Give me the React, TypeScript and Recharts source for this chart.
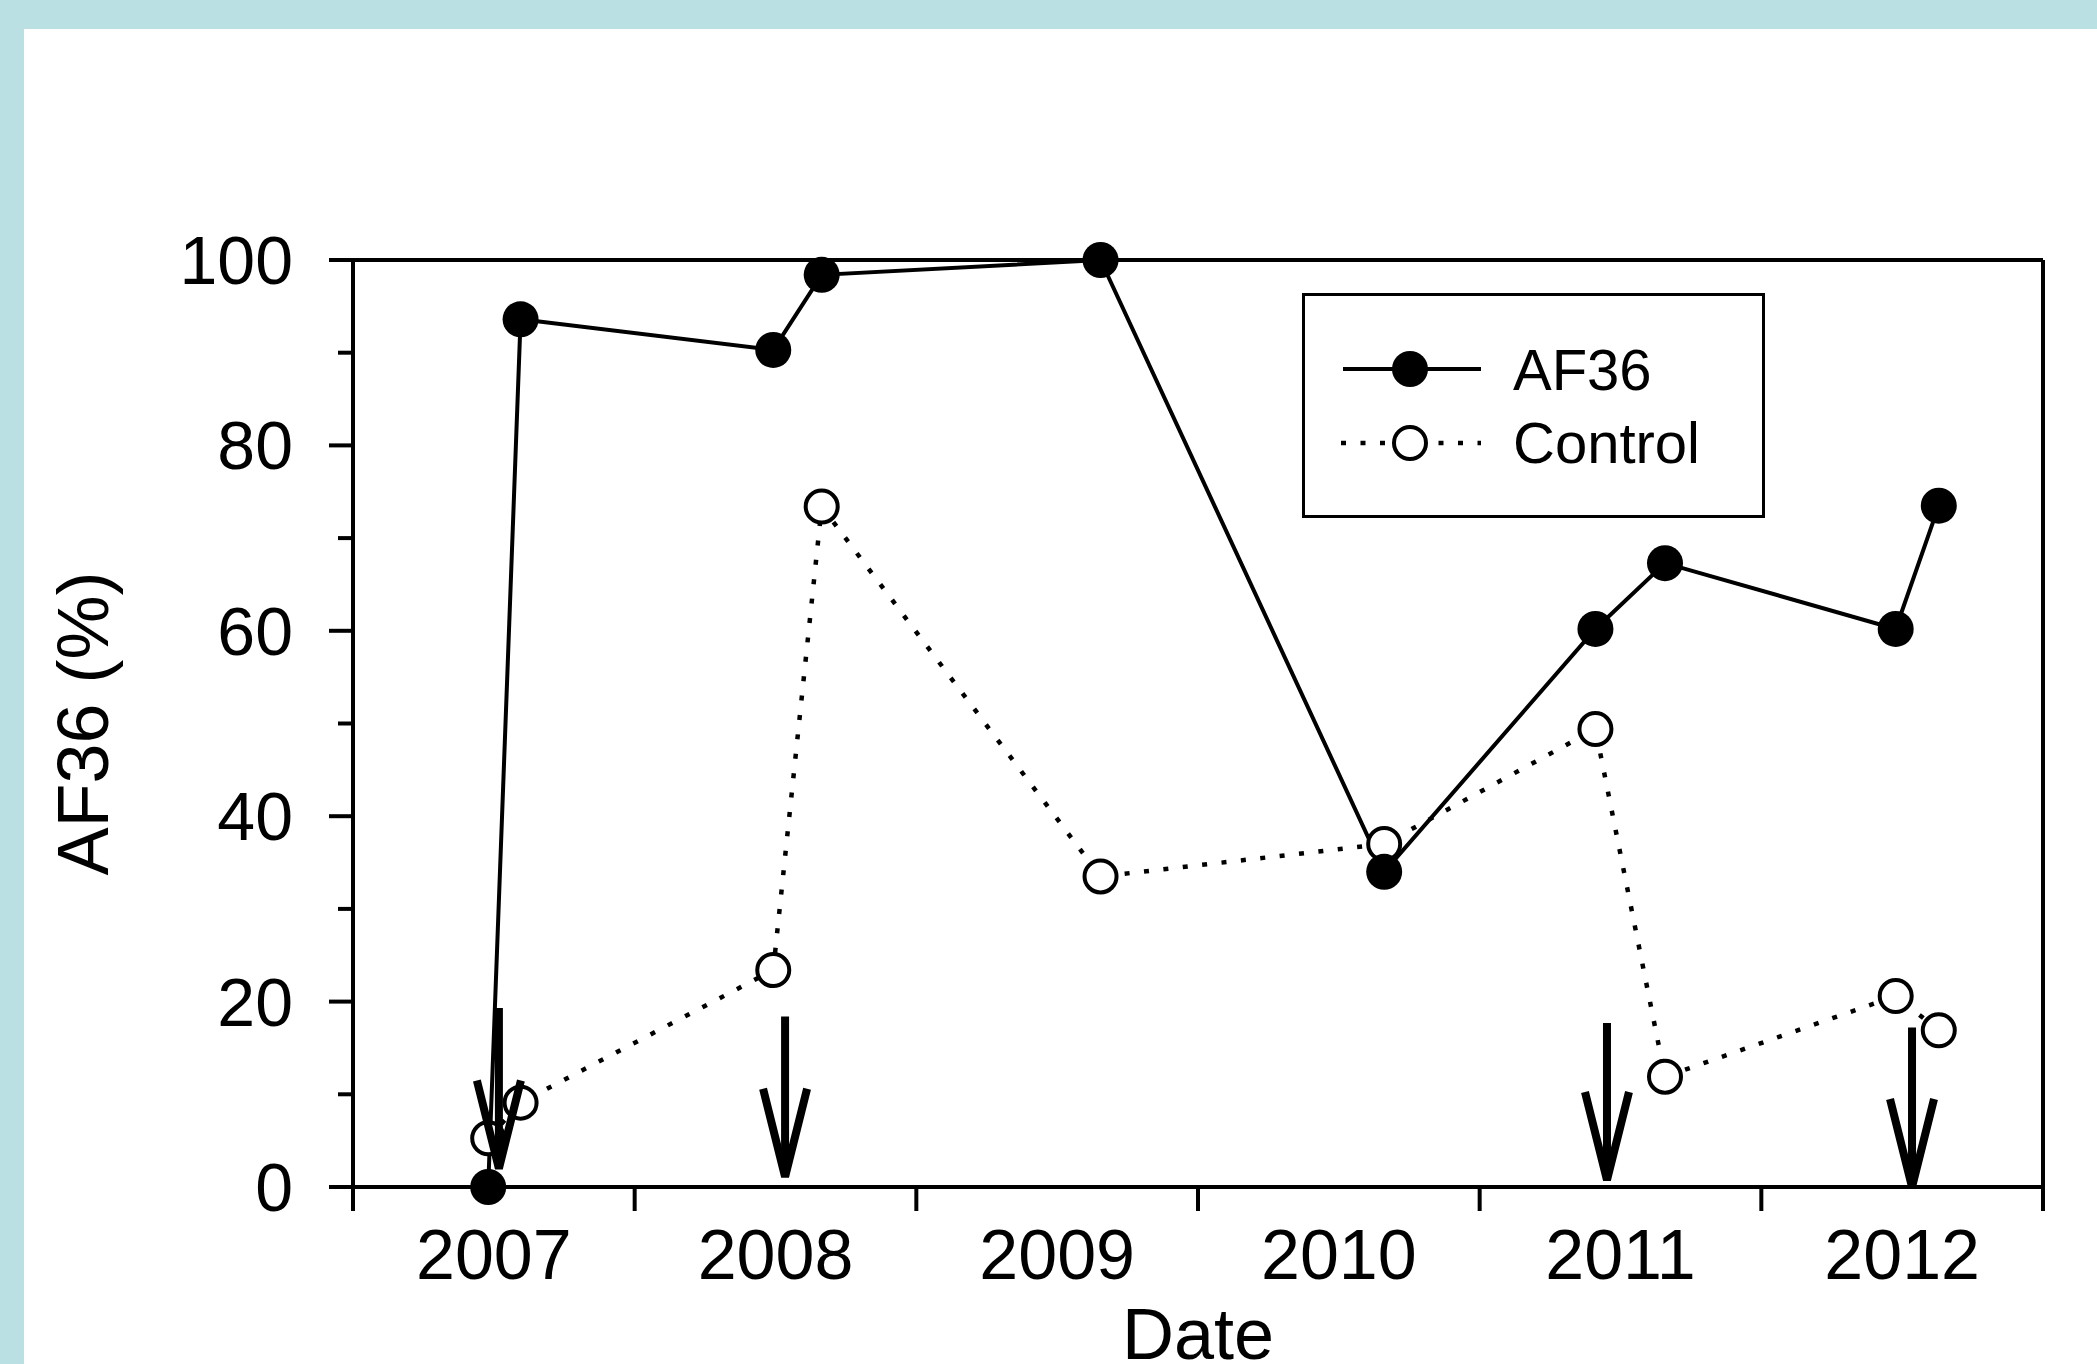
import React from 'react';
import { LineChart, Line, XAxis, YAxis, ReferenceLine, ReferenceDot, Legend } from 'recharts';

const FONT = '"Liberation Sans", Arial, sans-serif';

// sampling dates as fractional years
const dates = [2007.48, 2007.595, 2008.492, 2008.664, 2009.654, 2010.661, 2011.411, 2011.658, 2012.477, 2012.63];
const af36 = [0, 93.6, 90.3, 98.4, 100, 34.0, 60.2, 67.3, 60.2, 73.5];
const control = [5.25, 9.1, 23.4, 73.4, 33.5, 37.0, 49.4, 11.9, 20.6, 16.9];

// treatment arrows
const arrowDates = [2007.518, 2008.534, 2011.452, 2012.535];
const arrowTop = [19.3, 18.4, 17.7, 17.2];
const arrowTip = [2.0, 1.1, 0.75, 0];

const yearTicks = [2007, 2008, 2009, 2010, 2011, 2012, 2013];
const yearLabels = ['2007', '2008', '2009', '2010', '2011', '2012'];
const yTicks = [0, 10, 20, 30, 40, 50, 60, 70, 80, 90, 100];
const seriesNames = ['AF36', 'Control'];

const data = dates.map((d, i) => ({ date: d, af36: af36[i], control: control[i] }));
const xTicks = [...yearTicks, ...yearLabels.map((_, i) => yearTicks[i] + 0.5)].sort((a, b) => a - b);

const LeftTick = (props: any) => {
  const { x, y, payload } = props;
  const major = payload.value % 20 === 0;
  return (
    <g>
      <line x1={x} y1={y} x2={x - (major ? 24 : 15)} y2={y} stroke="#000" strokeWidth={4} />
      {major && (
        <text x={x - 60} y={y + 24} textAnchor="end" fontSize={68} fontFamily={FONT} fill="#000">
          {payload.value}
        </text>
      )}
    </g>
  );
};

const RightTick = (props: any) => {
  const { x, y, payload } = props;
  const major = payload.value % 20 === 0;
  return <line x1={x} y1={y} x2={x + (major ? 24 : 15)} y2={y} stroke="#000" strokeWidth={4} />;
};

const BottomTick = (props: any) => {
  const { x, y, payload } = props;
  const v = payload.value;
  if (Number.isInteger(v)) {
    return <line x1={x} y1={y} x2={x} y2={y + 24} stroke="#000" strokeWidth={4} />;
  }
  const idx = yearTicks.indexOf(Math.floor(v));
  return (
    <text x={x} y={y + 92} textAnchor="middle" fontSize={70} fontFamily={FONT} fill="#000">
      {yearLabels[idx]}
    </text>
  );
};

const YTitle = (props: any) => {
  const { viewBox } = props;
  const cy = viewBox.y + viewBox.height / 2;
  const x = 108;
  return (
    <text x={x} y={cy} transform={`rotate(-90, ${x}, ${cy})`} textAnchor="middle" fontSize={72} fontFamily={FONT} fill="#000">
      AF36 (%)
    </text>
  );
};

const ArrowHead = (props: any) => {
  const { cx, cy } = props;
  return (
    <path
      d={`M ${cx - 22} ${cy - 88} L ${cx} ${cy} L ${cx + 22} ${cy - 88}`}
      fill="none"
      stroke="#000"
      strokeWidth={8}
    />
  );
};

const LegendBox = () => (
  <svg width={463} height={225}>
    <rect x={1.5} y={1.5} width={460} height={222} fill="#fff" stroke="#000" strokeWidth={3} />
    <line x1={41} y1={76} x2={179} y2={76} stroke="#000" strokeWidth={4} />
    <circle cx={108} cy={76} r={18} fill="#000" />
    <text x={211} y={97} fontSize={58} fontFamily={FONT} fill="#000">{seriesNames[0]}</text>
    <line x1={39} y1={150} x2={179} y2={150} stroke="#000" strokeWidth={4.5} strokeDasharray="5 14.5" />
    <circle cx={108} cy={150} r={16} fill="#fff" stroke="#000" strokeWidth={4} />
    <text x={211} y={170} fontSize={58} fontFamily={FONT} fill="#000">{seriesNames[1]}</text>
  </svg>
);

export default function App() {
  return (
    <div style={{ position: 'absolute', left: 0, top: 0, width: 2097, height: 1364, background: '#fff', overflow: 'hidden' }}>
      <div style={{ position: 'absolute', left: 0, top: 0, width: 2097, height: 29, background: '#bae0e3' }} />
      <div style={{ position: 'absolute', left: 0, top: 0, width: 24, height: 1364, background: '#bae0e3' }} />
      <div style={{ position: 'absolute', left: 0, top: 0 }}>
        <LineChart width={2097} height={1364} data={data} margin={{ top: 260, right: 0, bottom: 0, left: 0 }}>
          <XAxis
            dataKey="date"
            type="number"
            domain={[2007, 2013]}
            ticks={xTicks}
            interval={0}
            tickSize={0}
            tickMargin={0}
            tickLine={false}
            tick={<BottomTick />}
            height={177}
            axisLine={{ stroke: '#000', strokeWidth: 4 }}
            label={{ value: 'Date', position: 'insideBottom', offset: 5, fontSize: 72, fontFamily: FONT, fill: '#000' }}
          />
          <YAxis
            type="number"
            domain={[0, 100]}
            ticks={yTicks}
            interval={0}
            tickSize={0}
            tickMargin={0}
            tickLine={false}
            tick={<LeftTick />}
            width={353}
            axisLine={{ stroke: '#000', strokeWidth: 4 }}
            label={{ content: <YTitle /> }}
          />
          <YAxis
            yAxisId="r"
            orientation="right"
            type="number"
            domain={[0, 100]}
            ticks={yTicks}
            interval={0}
            tickSize={0}
            tickMargin={0}
            tickLine={false}
            tick={<RightTick />}
            width={54}
            axisLine={{ stroke: '#000', strokeWidth: 4 }}
          />
          <ReferenceLine y={100} stroke="#000" strokeWidth={4} />
          <Line
            dataKey="control"
            name={seriesNames[1]}
            stroke="#000"
            strokeWidth={4.5}
            strokeDasharray="5 14.5"
            dot={{ r: 16, fill: '#fff', stroke: '#000', strokeWidth: 4, strokeDasharray: 'none' }}
            activeDot={false}
            isAnimationActive={false}
          />
          <Line
            dataKey="af36"
            name={seriesNames[0]}
            stroke="#000"
            strokeWidth={4}
            dot={{ r: 18, fill: '#000', stroke: 'none' }}
            activeDot={false}
            isAnimationActive={false}
          />
          {arrowDates.map((d, i) => (
            <ReferenceLine
              key={`shaft-${i}`}
              segment={[{ x: d, y: arrowTop[i] }, { x: d, y: arrowTip[i] }]}
              stroke="#000"
              strokeWidth={8}
              zIndex={1500}
            />
          ))}
          {arrowDates.map((d, i) => (
            <ReferenceDot key={`head-${i}`} x={d} y={arrowTip[i]} r={0} shape={<ArrowHead />} zIndex={1500} />
          ))}
          <Legend
            layout="horizontal"
            verticalAlign="middle"
            align="center"
            wrapperStyle={{ left: 1302, top: 293, width: 463, height: 225 }}
            content={<LegendBox />}
          />
        </LineChart>
      </div>
    </div>
  );
}
